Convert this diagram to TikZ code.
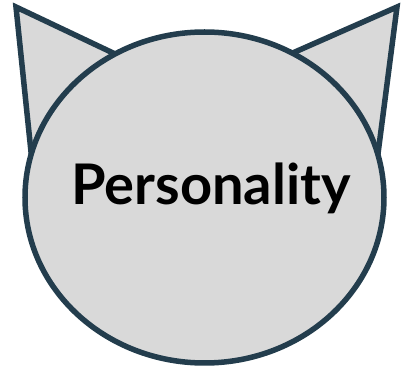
\documentclass[tikz,border=0pt]{standalone}
\usepackage{fontspec}
\setmainfont{Lato}
\usepackage{tikz}
\definecolor{catline}{RGB}{35,61,77}
\definecolor{catfill}{RGB}{217,217,217}
\tikzset{
  ear/.style={draw=catline,fill=catfill,line width=5.5pt,line join=miter},
  face/.style={draw=catline,fill=catfill,line width=5.5pt,ellipse,minimum width=359pt,minimum height=331pt,inner sep=0pt},
  label/.style={font=\fontsize{56}{60}\selectfont\bfseries,text=black}
}
\usetikzlibrary{shapes.geometric}

\begin{document}
\begin{tikzpicture}[x=1pt,y=-1pt]
\useasboundingbox (0,0) rectangle (408,374);

% Ears
\draw[ear] (16,7) -- (150,70.5) -- (36,200) -- cycle;
\draw[ear] (397,7) -- (260,67.4) -- (372,200) -- cycle;

% Head
\node[face] (head) at (204.5,197.5) {};

% Text
\node[label] (name) at (211,188) {Personality};

\end{tikzpicture}
\end{document}
